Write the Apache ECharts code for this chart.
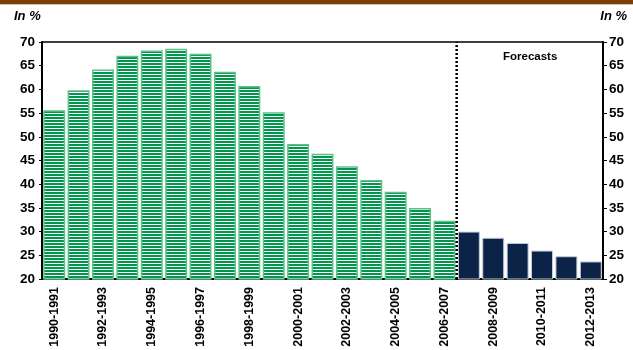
<!DOCTYPE html>
<html>
<head>
<meta charset="utf-8">
<script src="https://cdn.jsdelivr.net/npm/echarts@6/dist/echarts.min.js"></script>
<style>
  html, body { margin: 0; padding: 0; background: #fff; }
  #chart { width: 633px; height: 350px; }
</style>
</head>
<body>
<div id="chart"></div>
<script>
// Periods (school/fiscal years)
const categories = [
  '1990-1991','1991-1992','1992-1993','1993-1994','1994-1995','1995-1996',
  '1996-1997','1997-1998','1998-1999','1999-2000','2000-2001','2001-2002',
  '2002-2003','2003-2004','2004-2005','2005-2006','2006-2007','2007-2008',
  '2008-2009','2009-2010','2010-2011','2011-2012','2012-2013'
];
// Observed values (in %)
const actualValues = [55.6, 59.8, 64.2, 67.1, 68.2, 68.6, 67.5, 63.7, 60.7, 55.2,
  48.5, 46.4, 43.8, 40.9, 38.4, 35.0, 32.3];
// Projected values (in %)
const forecastValues = [30.0, 28.7, 27.6, 26.0, 24.8, 23.7];
const yTicks = { min: 20, max: 70, interval: 5 };
const forecastStartIndex = actualValues.length;

const actualSeries = categories.map((c, i) => i < actualValues.length ? actualValues[i] : null);
const forecastSeries = categories.map((c, i) => i >= forecastStartIndex ? forecastValues[i - forecastStartIndex] : null);

// Horizontal-stripe fill for the observed bars
function stripeCanvas() {
  const cv = document.createElement('canvas');
  cv.width = 4; cv.height = 3;
  const ctx = cv.getContext('2d');
  ctx.fillStyle = '#ffffff';
  ctx.fillRect(0, 0, 4, 3);
  ctx.fillStyle = '#00964b';
  ctx.fillRect(0, 0, 4, 2);
  return cv;
}

const labelFont = { fontFamily: 'Liberation Sans, Arial, sans-serif', fontWeight: 'bold', color: '#000' };

const chart = echarts.init(document.getElementById('chart'), null, { renderer: 'canvas' });
chart.setOption({
  animation: false,
  grid: { left: 42, right: 30, top: 42, bottom: 71, show: true, borderColor: '#000', borderWidth: 1.5 },
  xAxis: [{
    type: 'category',
    data: categories,
    axisLine: { lineStyle: { color: '#000', width: 2 } },
    axisTick: { show: false },
    axisLabel: Object.assign({ rotate: 90, interval: 1, fontSize: 12.5, margin: 8 }, labelFont)
  }, {
    type: 'value', min: 0, max: categories.length, show: false
  }],
  yAxis: [{
    type: 'value', position: 'left', min: yTicks.min, max: yTicks.max, interval: yTicks.interval,
    splitLine: { show: false },
    axisLine: { show: true, lineStyle: { color: '#000', width: 2 } },
    axisTick: { show: true, inside: false, length: 3, lineStyle: { color: '#000', width: 1 } },
    axisLabel: Object.assign({ fontSize: 13.5, margin: 7 }, labelFont)
  }, {
    type: 'value', position: 'right', min: yTicks.min, max: yTicks.max, interval: yTicks.interval,
    splitLine: { show: false },
    axisLine: { show: true, lineStyle: { color: '#000', width: 2 } },
    axisTick: { show: true, inside: false, length: 4, lineStyle: { color: '#000', width: 1 } },
    axisLabel: Object.assign({ fontSize: 13.5, margin: 6 }, labelFont)
  }],
  series: [{
    type: 'bar', name: 'Actual', data: actualSeries, stack: 'v',
    barCategoryGap: '10%',
    itemStyle: {
      color: { image: stripeCanvas(), repeat: 'repeat' },
      borderColor: '#5fbf8c', borderWidth: 1.5
    }
  }, {
    type: 'bar', name: 'Forecast', data: forecastSeries, stack: 'v',
    itemStyle: { color: '#0b2346', borderColor: '#c3cad8', borderWidth: 1 }
  }, {
    // Divider between observed and projected periods
    type: 'line', xAxisIndex: 1, yAxisIndex: 0,
    data: [[forecastStartIndex, yTicks.min], [forecastStartIndex, yTicks.max]],
    symbol: 'none', silent: true,
    lineStyle: { color: '#000', width: 2.5, type: [2, 2] }
  }],
  graphic: [
    { type: 'rect', shape: { x: 0, y: 0, width: 633, height: 4 }, style: { fill: '#7b3f06' } },
    { type: 'rect', shape: { x: 0, y: 4, width: 633, height: 1 }, style: { fill: '#dcc0a8' } },
    { type: 'text', left: 14, top: 10, style: { text: 'In %', font: 'italic bold 13px Liberation Sans, Arial, sans-serif', fill: '#000' } },
    { type: 'text', right: 6, top: 10, style: { text: 'In %', font: 'italic bold 13px Liberation Sans, Arial, sans-serif', fill: '#000' } },
    { type: 'text', left: 503, top: 51, style: { text: 'Forecasts', font: 'bold 11.5px Liberation Sans, Arial, sans-serif', fill: '#000' } }
  ]
});
</script>
</body>
</html>
